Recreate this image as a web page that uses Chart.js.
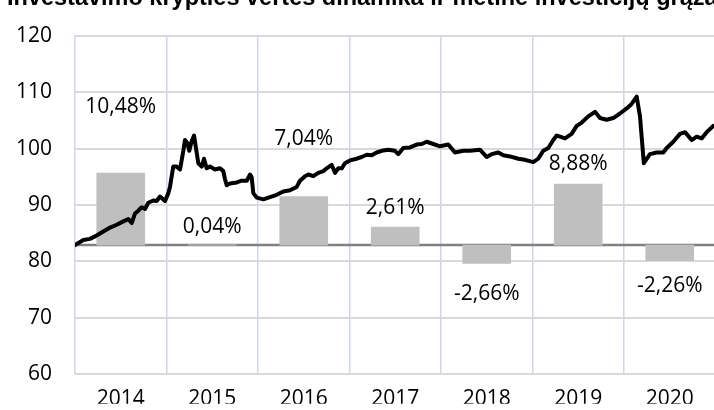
<!DOCTYPE html>
<html>
<head>
<meta charset="utf-8">
<script src="https://cdn.jsdelivr.net/npm/chart.js@4"></script>
<style>
  html, body { margin: 0; padding: 0; background: #fff; }
  #wrap { width: 714px; height: 410px; position: relative; }
</style>
</head>
<body>
<div id="wrap"><canvas id="chartValue"></canvas></div>
<script>
var titleText = 'Investavimo krypties vertės dinamika ir metinė investicijų grąža';

// metai ir metine graza (%)
var years = ['2014', '2015', '2016', '2017', '2018', '2019', '2020'];
var returns = [10.48, 0.04, 7.04, 2.61, -2.66, 8.88, -2.26];
var returnLabels = ['10,48%', '0,04%', '7,04%', '2,61%', '-2,66%', '8,88%', '-2,26%'];
// etiketes poslinkis nuo stulpelio galo (px)
var labelShift = [-66, -18, -58, -19, 31, -20, 25];

var valueTicks = [60, 70, 80, 90, 100, 110, 120];

// vertes dinamika (data metais, verte)
var lineDates = [
  2014.000, 2014.091, 2014.164, 2014.237, 2014.309, 2014.383, 2014.456, 2014.528, 2014.583, 2014.620,
  2014.656, 2014.692, 2014.729, 2014.765, 2014.801, 2014.856, 2014.893, 2014.929, 2014.984, 2015.020,
  2015.038, 2015.074, 2015.111, 2015.148, 2015.184, 2015.202, 2015.227, 2015.249, 2015.275, 2015.301,
  2015.322, 2015.348, 2015.385, 2015.410, 2015.439, 2015.475, 2015.530, 2015.585, 2015.621, 2015.639,
  2015.658, 2015.694, 2015.767, 2015.822, 2015.877, 2015.913, 2015.931, 2015.949, 2015.986, 2016.058,
  2016.131, 2016.204, 2016.277, 2016.350, 2016.423, 2016.459, 2016.514, 2016.550, 2016.604, 2016.659,
  2016.714, 2016.751, 2016.805, 2016.842, 2016.878, 2016.915, 2016.951, 2017.005, 2017.079, 2017.133,
  2017.188, 2017.243, 2017.297, 2017.352, 2017.424, 2017.497, 2017.533, 2017.588, 2017.661, 2017.734,
  2017.789, 2017.844, 2017.916, 2017.989, 2018.080, 2018.153, 2018.244, 2018.317, 2018.426, 2018.499,
  2018.554, 2018.626, 2018.681, 2018.754, 2018.845, 2018.918, 2019.009, 2019.063, 2019.118, 2019.173,
  2019.227, 2019.264, 2019.301, 2019.355, 2019.428, 2019.483, 2019.538, 2019.610, 2019.683, 2019.738,
  2019.811, 2019.883, 2019.956, 2020.029, 2020.084, 2020.139, 2020.175, 2020.217, 2020.284, 2020.357,
  2020.430, 2020.467, 2020.539, 2020.612, 2020.667, 2020.740, 2020.795, 2020.849, 2020.904, 2020.976
];
var lineValues = [
  82.9, 83.8, 84.0, 84.6, 85.3, 86.0, 86.5, 87.1, 87.5, 86.8,
  88.5, 89.0, 89.6, 89.3, 90.4, 90.8, 90.7, 91.5, 90.7, 92.1,
  93.2, 96.8, 96.8, 96.3, 99.6, 101.5, 101.0, 99.6, 101.3, 102.3,
  100.1, 97.4, 96.8, 98.2, 96.5, 96.8, 96.3, 96.5, 96.0, 94.6,
  93.5, 93.8, 94.0, 94.3, 94.3, 95.4, 94.9, 92.1, 91.3, 91.0,
  91.4, 91.8, 92.4, 92.6, 93.2, 94.3, 95.1, 95.4, 95.1, 95.7,
  96.0, 96.5, 97.1, 95.7, 96.5, 96.5, 97.4, 97.9, 98.2, 98.5,
  98.9, 98.8, 99.3, 99.6, 99.8, 99.6, 99.0, 100.1, 100.2, 100.7,
  100.8, 101.2, 100.8, 100.4, 100.7, 99.3, 99.6, 99.6, 99.8, 98.5,
  99.0, 99.3, 98.8, 98.6, 98.2, 98.0, 97.6, 98.2, 99.6, 100.1,
  101.5, 102.3, 102.1, 101.8, 102.6, 104.0, 104.6, 105.7, 106.5, 105.4,
  105.1, 105.4, 106.2, 107.1, 107.9, 109.2, 105.7, 97.4, 99.0, 99.3,
  99.3, 100.1, 101.2, 102.6, 102.9, 101.5, 102.1, 101.8, 102.9, 104.0
];

var linePoints = [];
for (var i = 0; i < lineDates.length; i++) {
  linePoints.push({ x: lineDates[i], y: lineValues[i] });
}
var barPoints = [];
for (var i = 0; i < years.length; i++) {
  barPoints.push({ x: Number(years[i]) + 0.5, y: returns[i] });
}

var baseFont = "'Open Sans', 'Noto Sans', sans-serif";

// antraste (nukirpta virsuje kaip originale)
var titlePlugin = {
  id: 'titleCut',
  afterDraw: function (chart) {
    var c = chart.ctx;
    c.save();
    c.fillStyle = '#000';
    c.font = "bold 23.5px 'Liberation Sans', Arial, sans-serif";
    c.textAlign = 'left';
    c.textBaseline = 'alphabetic';
    c.fillText(titleText, 7, 5);
    c.restore();
  }
};

// nulio linija antrinei asiai
var zeroLine = {
  id: 'zeroLine',
  beforeDatasetsDraw: function (chart) {
    var c = chart.ctx;
    var a = chart.chartArea;
    var y = chart.scales.y2.getPixelForValue(0);
    c.save();
    c.strokeStyle = '#808080';
    c.lineWidth = 2.5;
    c.beginPath();
    c.moveTo(a.left, y);
    c.lineTo(a.right, y);
    c.stroke();
    c.restore();
  }
};

var barLabels = {
  id: 'barLabels',
  afterDatasetsDraw: function (chart) {
    var c = chart.ctx;
    var meta = chart.getDatasetMeta(1);
    c.save();
    c.fillStyle = '#000';
    c.font = '21px ' + baseFont;
    c.textAlign = 'center';
    c.textBaseline = 'middle';
    meta.data.forEach(function (el, i) {
      c.fillText(returnLabels[i], el.x, el.y + labelShift[i]);
    });
    c.restore();
  }
};

var config = {
  type: 'line',
  data: {
    datasets: [
      {
        type: 'line',
        label: 'Vertė',
        data: linePoints,
        xAxisID: 'x',
        yAxisID: 'y',
        borderColor: '#000',
        borderWidth: 4,
        borderJoinStyle: 'round',
        borderCapStyle: 'round',
        pointRadius: 0,
        tension: 0,
        order: 0
      },
      {
        type: 'bar',
        label: 'Metinė grąža',
        data: barPoints,
        xAxisID: 'x',
        yAxisID: 'y2',
        backgroundColor: '#bfbfbf',
        borderWidth: 0,
        barThickness: 48,
        order: 1
      }
    ]
  },
  options: {
    responsive: true,
    maintainAspectRatio: false,
    animation: false,
    layout: { padding: { top: 21, left: 0, right: 0, bottom: 0 } },
    plugins: {
      legend: { display: false },
      tooltip: { enabled: false },
      title: { display: false }
    },
    scales: {
      x: {
        type: 'linear',
        min: 2014,
        max: 2020.984,
        offset: false,
        border: { display: false },
        grid: {
          offset: false,
          drawTicks: false,
          lineWidth: 1.5,
          color: function (ctx) {
            return ctx.tick && Number.isInteger(ctx.tick.value) ? '#cbd7ee' : 'rgba(0,0,0,0)';
          }
        },
        afterBuildTicks: function (scale) {
          var t = [];
          for (var i = 0; i < years.length; i++) {
            t.push({ value: Number(years[i]) });
            t.push({ value: Number(years[i]) + 0.5 });
          }
          scale.ticks = t;
        },
        afterFit: function (scale) { scale.height = 29.3; },
        ticks: {
          autoSkip: false,
          maxRotation: 0,
          padding: 12,
          color: '#000',
          font: { family: baseFont, size: 21 },
          callback: function (v) {
            return Number.isInteger(v) ? '' : years[Math.floor(v) - 2014];
          }
        }
      },
      y: {
        position: 'left',
        min: 60,
        max: 120,
        border: { display: false },
        grid: { color: '#d9d9d9', lineWidth: 2, drawTicks: false },
        afterBuildTicks: function (scale) {
          scale.ticks = valueTicks.map(function (v) { return { value: v }; });
        },
        afterFit: function (scale) { scale.width = 75; },
        ticks: {
          padding: 23,
          color: '#000',
          font: { family: baseFont, size: 21 }
        }
      },
      y2: {
        display: false,
        min: -18.8,
        max: 30.45
      }
    }
  },
  plugins: [titlePlugin, zeroLine, barLabels]
};

new Chart(document.getElementById('chartValue'), config);
</script>
</body>
</html>
